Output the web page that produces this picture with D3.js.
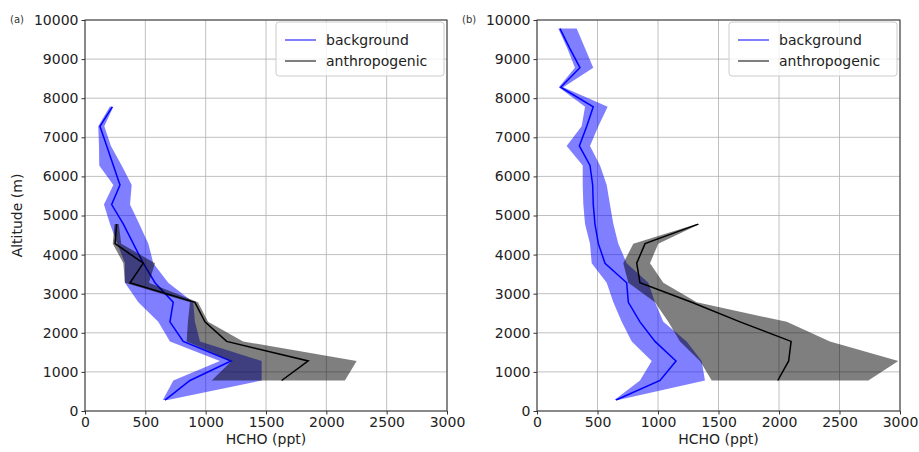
<!DOCTYPE html>
<html><head><meta charset="utf-8">
<script src="https://cdn.jsdelivr.net/npm/d3@7"></script>
<style>body{margin:0;background:#fff;} text{font-family:"DejaVu Sans",sans-serif;}</style>
</head><body><svg id="c" width="919" height="452"></svg>
<script>
const altitudes = [280,780,1280,1780,2280,2780,3280,3780,4280,4780,5280,5780,6280,6780,7280,7780,8280,8780,9280,9780];
const xTicks = [0,500,1000,1500,2000,2500,3000];
const yTicks = [0,1000,2000,3000,4000,5000,6000,7000,8000,9000,10000];
const seriesNames = ["background","anthropogenic"];

// Panel (a)
const aBgMean = [663,870,1210,814,704,731,580,483,400,318,221,290,235,180,124,226];
const aBgLow  = [645,732,1118,704,607,442,331,331,268,207,157,235,118,116,110,205];
const aBgHigh = [685,1464,1464,953,911,897,690,566,525,450,373,387,304,215,160,235];
const aAnMean = [null,1630,1850,1174,994,911,373,483,249,262];
const aAnLow  = [null,1050,1215,842,853,870,330,318,230,245];
const aAnHigh = [null,2154,2251,1310,1020,936,530,580,300,280];

// Panel (b)
const bBgMean = [653,1017,1149,975,851,755,741,562,507,479,465,460,438,350,411,465,196,355,270,190];
const bBgLow  = [640,851,948,783,700,631,576,452,438,397,383,378,378,245,369,397,180,314,250,176];
const bBgHigh = [670,1388,1361,1237,1044,975,920,741,672,631,603,576,521,438,507,584,217,465,397,328];
const bAnMean = [null,1990,2080,2100,1678,1278,851,824,893,1333];
const bAnLow  = [null,1444,1347,1182,1085,975,755,713,796,1320];
const bAnHigh = [null,2738,2986,2421,2064,1320,1044,934,1002,1345];

const svg = d3.select("#c");
const panels = [
  {label:"(a)", left:85, right:447, bg:[aBgMean,aBgLow,aBgHigh], an:[aAnMean,aAnLow,aAnHigh], showY:true},
  {label:"(b)", left:537, right:900, bg:[bBgMean,bBgLow,bBgHigh], an:[bAnMean,bAnLow,bAnHigh], showY:false}
];
const plotTop = 20, plotBottom = 411;

function rows(arrs){
  const [m,l,h] = arrs;
  const out = [];
  for(let i=0;i<m.length;i++){ if(m[i]!=null) out.push({alt:altitudes[i], m:m[i], l:l[i], h:h[i]}); }
  return out;
}

panels.forEach(p=>{
  const x = d3.scaleLinear().domain([0,3000]).range([p.left,p.right]);
  const y = d3.scaleLinear().domain([0,10000]).range([plotBottom,plotTop]);
  const g = svg.append("g");
  g.selectAll(".gx").data(xTicks).join("line").attr("x1",d=>x(d)).attr("x2",d=>x(d)).attr("y1",plotTop).attr("y2",plotBottom).attr("stroke","#b0b0b0").attr("stroke-width",0.8);
  g.selectAll(".gy").data(yTicks).join("line").attr("y1",d=>y(d)).attr("y2",d=>y(d)).attr("x1",p.left).attr("x2",p.right).attr("stroke","#b0b0b0").attr("stroke-width",0.8);

  const area = d3.area().y(d=>y(d.alt)).x0(d=>x(d.l)).x1(d=>x(d.h));
  const line = d3.line().y(d=>y(d.alt)).x(d=>x(d.m));
  const bg = rows(p.bg), an = rows(p.an);
  g.append("path").datum(bg).attr("d",area).attr("fill","#0000ff").attr("fill-opacity",0.5);
  g.append("path").datum(bg).attr("d",line).attr("fill","none").attr("stroke","#0000ff").attr("stroke-width",1.5);
  g.append("path").datum(an).attr("d",area).attr("fill","#000").attr("fill-opacity",0.5);
  g.append("path").datum(an).attr("d",line).attr("fill","none").attr("stroke","#000").attr("stroke-width",1.5);

  const fmt = d3.format("d");
  const xa = g.append("g").attr("transform",`translate(0,${plotBottom})`).call(d3.axisBottom(x).tickValues(xTicks).tickFormat(fmt).tickSize(3.5).tickPadding(3));
  const ya = g.append("g").attr("transform",`translate(${p.left},0)`).call(d3.axisLeft(y).tickValues(yTicks).tickFormat(fmt).tickSize(3.5).tickPadding(3));
  [xa,ya].forEach(a=>{a.select(".domain").remove(); a.selectAll("line").attr("stroke","#333"); a.selectAll("text").attr("font-size",14).attr("fill","#222").style("font-family","DejaVu Sans");});
  g.append("rect").attr("x",p.left).attr("y",plotTop).attr("width",p.right-p.left).attr("height",plotBottom-plotTop).attr("fill","none").attr("stroke","#333").attr("stroke-width",1);

  g.append("text").attr("x",(p.left+p.right)/2).attr("y",444).attr("text-anchor","middle").attr("font-size",14).attr("fill","#222").text("HCHO (ppt)");
  if(p.showY){
    g.append("text").attr("transform",`translate(22,${(plotTop+plotBottom)/2}) rotate(-90)`).attr("text-anchor","middle").attr("font-size",14).attr("fill","#222").text("Altitude (m)");
  }
  g.append("text").attr("x",p.left-75).attr("y",23).attr("font-size",10).attr("fill","#333").text(p.label);

  const lx = p.right-171, ly = 22;
  const lg = g.append("g");
  lg.append("rect").attr("x",lx).attr("y",ly).attr("width",168).attr("height",54).attr("rx",3).attr("fill","#fff").attr("fill-opacity",0.8).attr("stroke","#ccc");
  const cols = ["#7f7fff","#7f7f7f"];
  seriesNames.forEach((s,i)=>{
    const yy = ly+18+i*21;
    lg.append("line").attr("x1",lx+9).attr("x2",lx+40).attr("y1",yy).attr("y2",yy).attr("stroke",cols[i]).attr("stroke-width",2);
    lg.append("text").attr("x",lx+50).attr("y",yy+5).attr("font-size",14).attr("fill","#222").text(s);
  });
});
</script></body></html>
